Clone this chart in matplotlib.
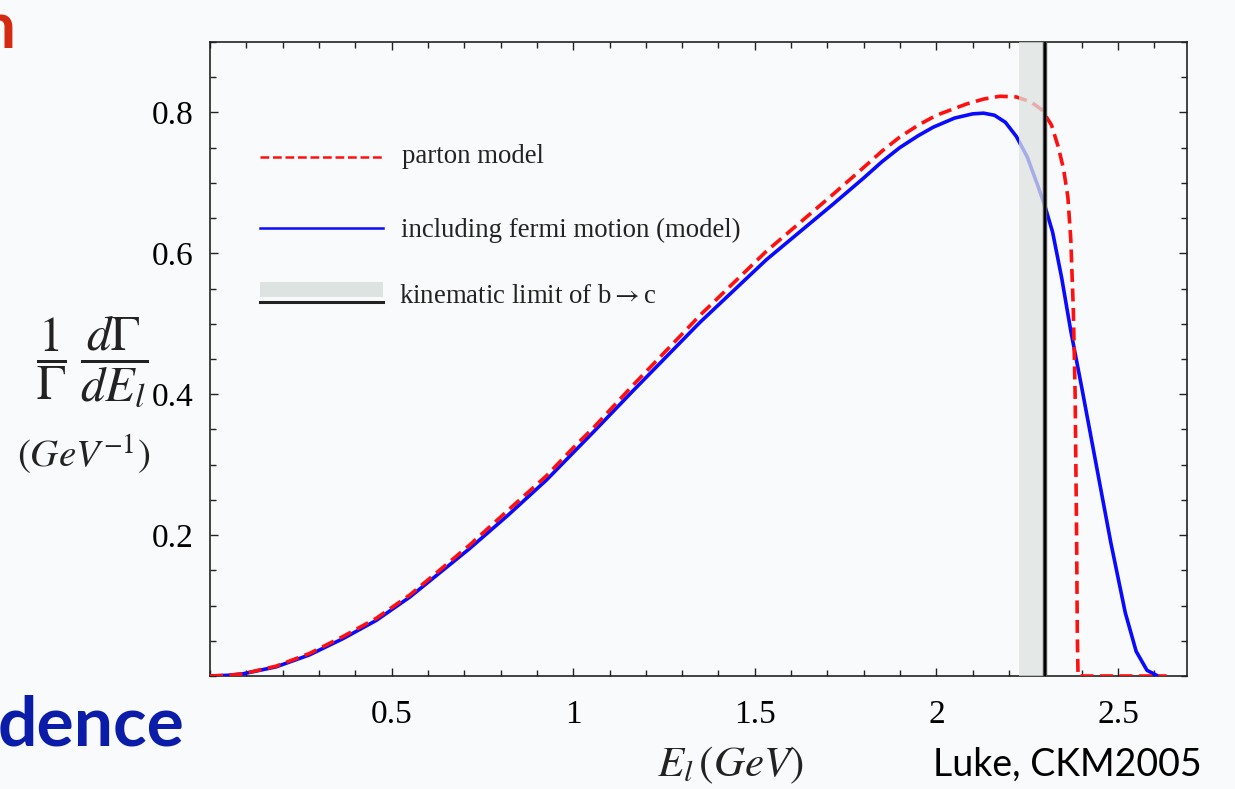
import matplotlib
matplotlib.use('Agg')
import matplotlib.pyplot as plt
from matplotlib.ticker import MultipleLocator

plt.rcParams['font.family'] = ['Liberation Serif', 'DejaVu Serif']
plt.rcParams['mathtext.fontset'] = 'stix'

# parton model (red dashed)
parton_x = [0.0, 0.05, 0.09, 0.182, 0.274, 0.366, 0.458, 0.55, 0.641, 0.715, 0.82, 0.926, 1.0,
            1.055, 1.165, 1.275, 1.349, 1.532, 1.716, 1.80, 1.85, 1.899, 1.95, 2.0, 2.083, 2.13,
            2.175, 2.22, 2.26, 2.29, 2.317, 2.335, 2.35, 2.362, 2.37, 2.377, 2.382, 2.386, 2.388,
            2.39, 2.634]
parton_y = [0.0, 0.001, 0.003, 0.014, 0.032, 0.056, 0.082, 0.115, 0.154, 0.186, 0.235, 0.284,
            0.324, 0.352, 0.413, 0.472, 0.512, 0.603, 0.684, 0.722, 0.745, 0.765, 0.782, 0.796,
            0.812, 0.819, 0.823, 0.822, 0.815, 0.804, 0.782, 0.752, 0.72, 0.68, 0.62, 0.52, 0.40,
            0.20, 0.06, 0.0, 0.0]

# including fermi motion (blue solid)
fermi_x = [0.0, 0.05, 0.09, 0.182, 0.274, 0.366, 0.458, 0.55, 0.641, 0.715, 0.82, 0.926, 1.0,
           1.055, 1.165, 1.275, 1.349, 1.532, 1.716, 1.80, 1.85, 1.899, 1.95, 1.991, 2.05, 2.10,
           2.13, 2.16, 2.19, 2.22, 2.25, 2.28, 2.30, 2.32, 2.345, 2.37, 2.40, 2.44, 2.48, 2.52,
           2.55, 2.58, 2.61]
fermi_y = [0.0, 0.001, 0.003, 0.013, 0.030, 0.053, 0.079, 0.112, 0.150, 0.181, 0.228, 0.278,
           0.317, 0.346, 0.405, 0.463, 0.502, 0.591, 0.670, 0.707, 0.730, 0.750, 0.767, 0.779,
           0.792, 0.798, 0.799, 0.796, 0.786, 0.766, 0.737, 0.695, 0.665, 0.630, 0.565, 0.49,
           0.41, 0.30, 0.19, 0.09, 0.035, 0.008, 0.0]

band_lo, band_hi = 2.227, 2.293
kin_limit = 2.300

x_ticks = [0.5, 1, 1.5, 2, 2.5]
x_tick_labels = ['0.5', '1', '1.5', '2', '2.5']
y_ticks = [0.2, 0.4, 0.6, 0.8]
y_tick_labels = ['0.2', '0.4', '0.6', '0.8']

legend_labels = ['parton model', 'including fermi motion (model)', r'kinematic limit of b$\rightarrow$c']

bg = '#f9fafb'
fig = plt.figure(figsize=(12.35, 7.89), dpi=100, facecolor=bg)
ax = fig.add_axes([210 / 1235, 1 - 676 / 789, 977 / 1235, 634 / 789])
ax.set_facecolor(bg)

ax.plot(fermi_x, fermi_y, color='#0a0aff', lw=2.6, zorder=3)
ax.plot(parton_x, parton_y, color='#ff1010', lw=2.6, dashes=(3.6, 1.8), zorder=4)

# kinematic limit band + line
ax.axvspan(band_lo, band_hi, color='#dde3e1', alpha=0.75, lw=0, zorder=5)
ax.axvline(kin_limit, color='#555555', lw=3.2, zorder=6)
ax.axvline(kin_limit, color='black', lw=1.6, zorder=7)

ax.set_xlim(0, 2.69)
ax.set_ylim(0, 0.9)
ax.set_xticks(x_ticks)
ax.set_xticklabels(x_tick_labels)
ax.set_yticks(y_ticks)
ax.set_yticklabels(y_tick_labels)
ax.xaxis.set_minor_locator(MultipleLocator(0.1))
ax.yaxis.set_minor_locator(MultipleLocator(0.05))
ax.tick_params(which='both', direction='in', top=True, right=True, width=1, color='#222222')
ax.tick_params(which='major', length=5.5, labelsize=24)
ax.tick_params(which='minor', length=4)
ax.tick_params(axis='x', pad=17)
ax.tick_params(axis='y', pad=12)
for s in ax.spines.values():
    s.set_linewidth(1.2)
    s.set_color('#222222')

# legend drawn by hand (as in the original)
ax.plot([0.051, 0.177], [0.819, 0.819], transform=ax.transAxes, color='#ff1010', lw=1.8,
        dashes=(3.5, 1.5))
ax.plot([0.051, 0.177], [0.707, 0.707], transform=ax.transAxes, color='#0a0aff', lw=1.8)
ax.add_patch(plt.Rectangle((0.051, 0.598), 0.126, 0.024, transform=ax.transAxes,
                           facecolor='#dde3e1', edgecolor='none'))
ax.plot([0.051, 0.177], [0.590, 0.590], transform=ax.transAxes, color='#222222', lw=2.2)
ax.text(0.197, 0.809, legend_labels[0], transform=ax.transAxes, fontsize=19.3, va='baseline',
        color='#222222')
ax.text(0.196, 0.693, legend_labels[1], transform=ax.transAxes, fontsize=19.3, va='baseline',
        color='#222222')
ax.text(0.193, 0.588, legend_labels[2], transform=ax.transAxes, fontsize=19.3, va='baseline',
        color='#222222')

# axis labels
fig.text(730 / 1235, 1 - 765 / 789, r'$E_l\,(GeV)$', fontsize=31, ha='center', va='center',
         color='#222222')
fig.text(92 / 1235, 1 - 362 / 789, r'$\dfrac{1}{\Gamma}\;\dfrac{d\Gamma}{dE_l}$', fontsize=35,
         ha='center', va='center', color='#222222')
fig.text(84 / 1235, 1 - 455 / 789, r'$(GeV^{-1})$', fontsize=28, ha='center', va='center',
         color='#222222')

# slide fragments around the chart
fig.text(15 / 1235, 1 - 30 / 789, 'n', fontsize=46, fontweight='bold', color='#d42a12',
         ha='right', va='center', family='Lato')
fig.text(-2 / 1235, 1 - 726 / 789, 'dence', fontsize=50, fontweight='bold', color='#0b1ca8',
         ha='left', va='center', family='Lato')
fig.text(1067 / 1235, 1 - 765 / 789, 'Luke, CKM2005', fontsize=27, color='black',
         ha='center', va='center', family='Lato')

fig.savefig('out.png', dpi=100, facecolor=bg)
